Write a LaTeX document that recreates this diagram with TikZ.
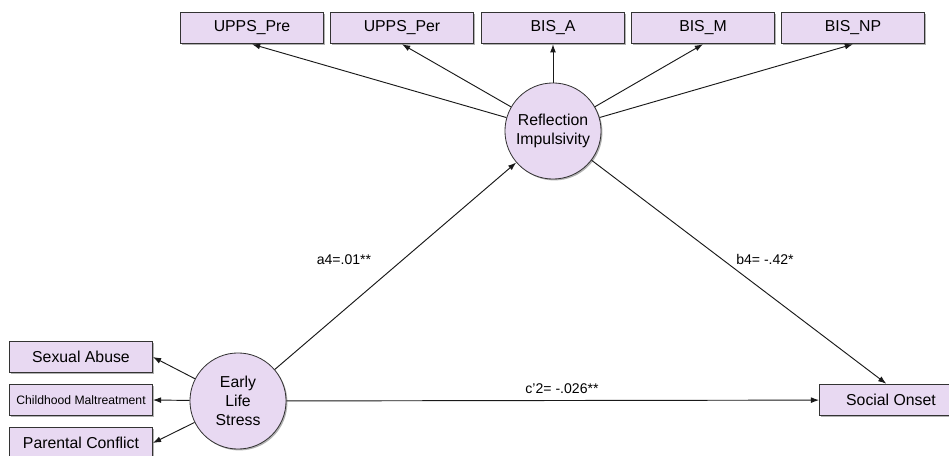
\documentclass[tikz,border=0pt]{standalone}
\usepackage{fontspec}
\setmainfont{Liberation Sans}
\usepackage{tikz}
\usetikzlibrary{arrows.meta,positioning,shadows}
\definecolor{boxfill}{RGB}{232,217,242}

\begin{document}
\begin{tikzpicture}[x=0.03cm, y=-0.03cm, >={Latex[length=7pt,width=5pt]},
  var/.style={draw=black!80, fill=boxfill, line width=0.7pt, minimum width=122pt, minimum height=27pt, inner sep=1pt, font=\fontsize{13.5}{15}\selectfont,
    drop shadow={shadow xshift=1.2pt, shadow yshift=-1.2pt, fill=black!60}},
  latent/.style={draw=black!80, fill=boxfill, line width=0.7pt, circle, minimum size=82pt, inner sep=0pt, align=center, font=\fontsize{13.5}{16}\selectfont,
    drop shadow={shadow xshift=1.2pt, shadow yshift=-1.2pt, fill=black!60}},
  lbl/.style={font=\fontsize{12}{14}\selectfont, inner sep=1pt},
  path/.style={->, line width=0.8pt, draw=black!90}]
\useasboundingbox (0,0) rectangle (949,456);
% indicators of the mediator
\node[var] (pre) at (252,28) {UPPS\_Pre};
\node[var] (per) at (402,28) {UPPS\_Per};
\node[var] (bisa) at (553,28) {BIS\_A};
\node[var] (bism) at (703,28) {BIS\_M};
\node[var] (bisnp) at (853,28) {BIS\_NP};
% latent variables
\node[latent] (ri) at (553,131) {Reflection\\Impulsivity};
\node[latent] (els) at (238,401) {Early\\Life\\Stress};
% indicators of early life stress
\node[var] (sa) at (81,357) {Sexual Abuse};
\node[var, font=\fontsize{10.4}{12}\selectfont] (cm) at (81,400) {Childhood Maltreatment};
\node[var] (pc) at (81,443) {Parental Conflict};
% outcome (runs past the right edge)
\node[var] (so) at (891,400) {Social Onset};

% loadings
\draw[path] (ri) -- (pre.south);
\draw[path] (ri) -- (per.south);
\draw[path] (ri) -- (bisa.south);
\draw[path] (ri) -- (bism.south);
\draw[path] (ri) -- (bisnp.south);
\draw[path] (els) -- (sa.east);
\draw[path] (els) -- (cm.east);
\draw[path] (els) -- (pc.east);

% structural paths
\draw[path] (els) -- (ri);
\draw[path] (ri) -- ([xshift=-4pt]so.north);
\draw[path] (els) -- (so);
\node[lbl] (la) at (344,260) {a4=.01**};
\node[lbl] (lb) at (765,259) {b4= -.42*};
\node[lbl] (lc) at (562,389) {c'2= -.026**};
\end{tikzpicture}
\end{document}
